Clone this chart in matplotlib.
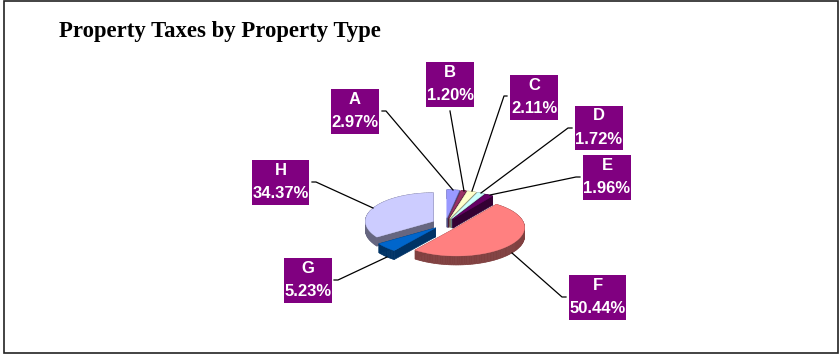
import numpy as np
import matplotlib
matplotlib.use("Agg")
import matplotlib.pyplot as plt
from matplotlib.patches import Polygon, Rectangle
from matplotlib.colors import to_rgb

categories = ["A", "B", "C", "D", "E", "F", "G", "H"]
shares = [2.97, 1.20, 2.11, 1.72, 1.96, 50.44, 5.23, 34.37]
colors = ["#9999FF", "#993366", "#FFFFCC", "#CCFFFF", "#660066", "#FF8080", "#0066CC", "#CCCCFF"]

W, H = 840, 354
CX, CY, RX, RY, EXPL, DEPTH = 445.5, 224, 68, 28.5, 13.7, 9
# label box: left, top, right, bottom; leader start, stub length and end
boxes = {
    "A": (331, 89, 379, 134, (382, 111), 4, (453, 190)),
    "B": (426, 62, 474, 107, (450, 111), 0, (464, 191)),
    "C": (510, 75, 558, 120, (507, 96), -3, (472, 191)),
    "D": (575, 106, 623, 150, (572, 128), -4, (481, 193)),
    "E": (583, 155, 631, 200, (580, 177), -4, (490, 195)),
    "F": (569, 275, 626, 320, (566, 297), -4, (512, 253)),
    "G": (284, 258, 332, 303, (334, 280), 4, (387, 257)),
    "H": (252, 160, 309, 205, (312, 182), 4, (373, 208)),
}

fig = plt.figure(figsize=(W / 100, H / 100), dpi=100)
ax = fig.add_axes([0, 0, 1, 1])
ax.set_xlim(0, W)
ax.set_ylim(H, 0)
ax.axis("off")

ax.add_patch(Rectangle((3.5, 1), 834.5, 352, fill=False, ec="#222222", lw=1.2))
ax.text(59, 37, "Property Taxes by Property Type", family="Liberation Serif",
        weight="bold", fontsize=16.4, color="black", ha="left", va="baseline")

fractions = np.array(shares) / sum(shares)
edges = np.concatenate([[0], np.cumsum(fractions)]) * 2 * np.pi


def outline(a0, a1):
    mid = (a0 + a1) / 2
    ox = CX + EXPL * np.sin(mid)
    oy = CY - EXPL * np.cos(mid) * RY / RX
    t = np.linspace(a0, a1, max(4, int((a1 - a0) * 40)))
    xs = ox + RX * np.sin(t)
    ys = oy - RY * np.cos(t)
    return np.column_stack([np.r_[ox, xs], np.r_[oy, ys]])


# paint the back slices first, the ones nearest the viewer last
slices = [(edges[i], edges[i + 1], colors[i]) for i in range(len(shares))]
order = [7, 0, 1, 2, 3, 4, 6, 5]
for i in order:
    a0, a1, col = slices[i]
    top = outline(a0, a1)
    side = tuple(c * 0.5 for c in to_rgb(col))
    n = len(top)
    for j in range(n):
        p, q = top[j], top[(j + 1) % n]
        quad = [p, q, q + [0, DEPTH], p + [0, DEPTH]]
        ax.add_patch(Polygon(quad, closed=True, fc=side, ec=side, lw=0.5, zorder=2))
    ax.add_patch(Polygon(top, closed=True, fc=col, ec=col, lw=0.3, zorder=2))

for name, share in zip(categories, shares):
    l, t, r, b, start, stub, end = boxes[name]
    ax.plot([start[0], start[0] + stub, end[0]],
            [start[1], start[1], end[1]], color="black", lw=0.9, zorder=3)
    ax.add_patch(Rectangle((l, t), r - l, b - t, fc="#800080", ec="none", zorder=4))
    ax.text((l + r) / 2, (t + b) / 2 - 0.5, f"{name}\n{share:.2f}%", family="Liberation Sans",
            weight="bold", fontsize=12, color="white", ha="center", va="center",
            linespacing=1.7, zorder=5)

fig.savefig("out.png", dpi=100, facecolor="white")
